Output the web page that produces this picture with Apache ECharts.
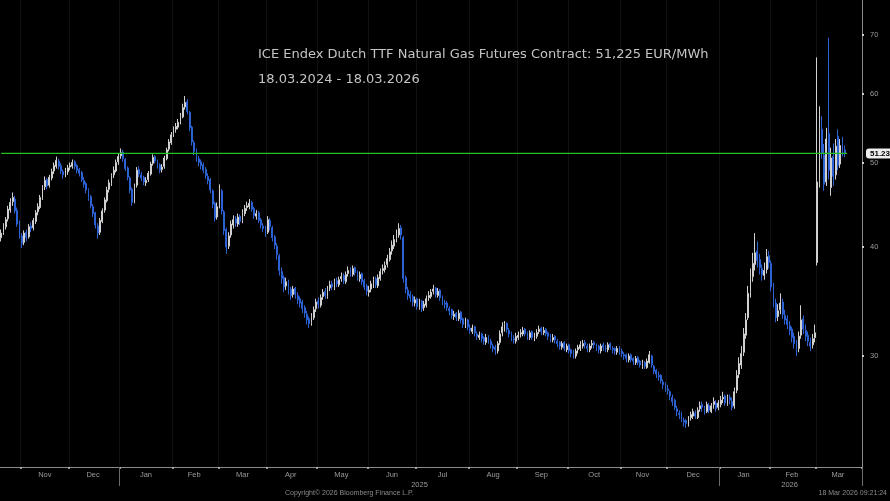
<!DOCTYPE html>
<html><head><meta charset="utf-8">
<script src="https://cdn.jsdelivr.net/npm/echarts@6/dist/echarts.min.js"></script>
<style>html,body{margin:0;padding:0;background:#000;}#c{width:890px;height:501px;}</style>
</head><body><div id="c"></div>
<script>
// Trading-day categories (weekdays) shown on the axis
const startDate = '2024-10-21';
const endDate = '2026-03-27';
// Daily candles per month: [open, close, low, high] (EUR/MWh)
const oct24 = [[41.0,41.5,40.6,41.9],[41.6,42.3,41.3,42.6],[42.2,43.0,41.9,43.3],[43.1,44.2,42.8,44.6],[44.1,45.0,43.8,45.5],[45.1,45.6,44.6,46.2],[45.4,44.0,43.7,45.8],[44.1,42.5,42.2,44.4],[42.6,41.3,40.9,42.9]];
const nov24 = [[41.2,40.4,39.9,41.5],[40.5,41.5,40.2,41.8],[41.6,41.0,40.6,41.9],[41.1,42.2,40.9,42.5],[42.3,42.0,41.6,42.7],[42.1,42.9,41.8,43.2],[42.8,43.8,42.5,44.1],[43.9,44.5,43.5,44.9],[44.4,45.6,44.2,45.9],[45.5,46.8,45.3,47.1],[46.9,47.7,46.5,48.2],[47.8,47.0,46.6,48.0],[47.1,48.1,46.8,48.4],[48.0,48.8,47.7,49.2],[48.9,49.6,48.5,50.0],[49.5,50.3,49.2,50.8],[50.2,49.5,49.1,50.5],[49.6,48.9,48.5,49.9],[48.8,48.4,47.9,49.1],[48.5,48.9,48.1,49.3],[48.8,49.3,48.4,49.7]];
const dec24 = [[49.4,49.6,49.0,50.0],[49.5,50.0,49.2,50.4],[50.1,49.5,49.1,50.3],[49.6,49.0,48.6,49.8],[49.1,48.6,48.2,49.3],[48.7,47.8,47.5,48.9],[47.7,47.2,46.8,48.1],[47.3,46.5,46.1,47.5],[46.4,45.6,45.2,46.7],[45.7,44.6,44.3,45.9],[44.5,43.7,43.3,44.8],[43.8,42.4,42.0,43.9],[42.3,41.5,40.9,42.6],[41.6,42.9,41.3,43.2],[42.8,44.0,42.6,44.3],[44.1,45.3,43.8,45.6],[45.2,46.5,45.0,46.9],[46.6,47.4,46.2,47.8],[47.3,48.3,47.0,48.6],[48.4,49.0,48.0,49.5],[48.9,50.0,48.7,50.4],[50.1,50.8,49.7,51.2]];
const jan25 = [[50.9,51.3,50.5,51.9],[51.4,50.5,50.1,51.7],[50.4,49.2,48.9,50.6],[49.3,48.1,47.7,49.5],[48.0,46.5,46.1,48.2],[46.6,45.0,44.6,46.8],[45.1,47.0,44.9,47.3],[47.1,49.0,46.8,49.4],[49.1,48.5,48.1,49.5],[48.4,48.0,47.6,48.8],[48.1,47.5,47.1,48.3],[47.4,47.7,47.0,48.1],[47.8,48.6,47.5,48.9],[48.5,49.8,48.3,50.1],[49.9,50.7,49.6,51.1],[50.8,50.2,49.9,51.0],[50.1,49.6,49.2,50.4],[49.7,49.0,48.6,49.9],[49.1,49.4,48.7,49.8],[49.5,50.6,49.2,50.9],[50.5,51.7,50.3,52.0],[51.8,52.8,51.5,53.2],[52.7,53.8,52.4,54.2]];
const feb25 = [[53.9,54.5,53.5,55.0],[54.6,55.0,54.1,55.5],[54.9,55.6,54.6,56.1],[55.7,56.5,55.3,57.0],[56.4,57.8,56.2,58.4],[57.9,58.6,57.5,59.6],[58.7,57.2,56.8,59.1],[57.1,54.8,54.3,57.3],[54.9,52.8,52.3,55.1],[52.7,51.5,51.0,53.0],[51.6,50.6,50.1,51.9],[50.5,50.0,49.5,50.9],[50.1,49.6,49.1,50.4],[49.7,49.0,48.6,50.0],[49.1,48.3,47.9,49.4],[48.2,47.7,47.2,48.6],[47.8,46.5,46.1,48.0],[46.4,44.8,44.3,46.6],[44.9,43.2,42.8,45.1],[43.3,44.5,43.0,45.0]];
const mar25 = [[44.6,46.5,44.3,47.2],[46.4,44.0,43.6,46.6],[43.9,41.8,41.3,44.1],[41.9,40.0,39.3,42.1],[40.1,41.2,39.8,41.6],[41.3,42.5,41.0,42.9],[42.4,43.0,42.0,43.5],[43.1,42.6,42.2,43.4],[42.5,43.3,42.2,43.7],[43.4,42.8,42.4,43.6],[42.9,43.8,42.6,44.2],[43.7,44.3,43.4,44.7],[44.4,44.6,44.0,45.1],[44.5,44.9,44.2,45.4],[45.0,44.2,43.9,45.2],[44.3,43.5,43.1,44.5],[43.4,43.7,43.0,44.1],[43.8,42.9,42.6,44.0],[43.0,42.4,42.0,43.2],[42.3,42.0,41.6,42.6],[42.1,41.5,41.1,42.3]];
const apr25 = [[41.6,43.0,41.4,43.4],[42.9,42.2,41.8,43.2],[42.1,41.0,40.6,42.3],[41.1,40.2,39.8,41.3],[40.1,39.2,38.7,40.4],[39.1,37.6,37.1,39.3],[37.5,36.8,36.3,37.9],[36.9,36.0,35.5,37.1],[36.1,36.5,35.7,36.9],[36.4,35.7,35.3,36.7],[35.8,35.2,34.8,36.0],[35.3,35.8,35.0,36.1],[35.9,35.3,34.9,36.0],[35.2,34.8,34.4,35.5],[34.9,34.5,34.1,35.1],[34.6,34.0,33.6,34.8],[34.1,33.6,33.2,34.3],[33.5,33.0,32.6,33.8],[33.1,32.7,32.3,33.3],[32.8,33.3,32.5,33.6],[33.2,33.9,33.0,34.2],[34.0,34.6,33.7,34.9]];
const may25 = [[34.7,34.4,34.0,35.0],[34.3,35.0,34.1,35.3],[35.1,35.5,34.8,35.8],[35.6,35.2,34.9,35.9],[35.1,35.8,34.9,36.1],[35.9,36.2,35.6,36.6],[36.3,36.0,35.7,36.6],[35.9,36.5,35.7,36.8],[36.6,36.3,36.0,36.9],[36.2,36.7,36.0,37.0],[36.8,37.0,36.5,37.4],[37.1,36.6,36.3,37.3],[36.5,37.2,36.3,37.5],[37.3,37.6,37.0,38.0],[37.7,37.3,37.0,37.9],[37.2,37.8,37.0,38.1],[37.9,37.4,37.1,38.0],[37.5,36.9,36.6,37.6],[36.8,37.2,36.5,37.5],[37.3,36.5,36.2,37.4],[36.6,36.0,35.7,36.8],[36.1,35.6,35.2,36.3]];
const jun25 = [[35.5,35.7,35.1,36.1],[35.8,36.3,35.5,36.6],[36.2,36.7,35.9,37.0],[36.8,36.2,35.9,37.0],[36.1,36.9,35.9,37.2],[36.8,37.5,36.6,37.8],[37.6,37.8,37.2,38.2],[37.7,38.1,37.4,38.5],[38.2,38.8,37.9,39.2],[38.7,39.5,38.5,39.9],[39.6,40.2,39.2,40.7],[40.1,40.8,39.8,41.3],[40.9,41.4,40.5,41.9],[41.3,42.0,41.0,42.6],[42.1,41.3,40.8,42.4],[41.0,36.8,36.4,41.2],[36.9,35.8,35.4,37.1],[35.7,35.2,34.8,36.0],[35.3,35.0,34.6,35.6],[35.1,34.6,34.2,35.3],[34.5,34.8,34.2,35.1]];
const jul25 = [[34.9,34.2,33.9,35.0],[34.1,34.6,33.9,34.9],[34.7,34.0,33.7,34.8],[34.1,34.4,33.8,34.7],[34.3,34.9,34.1,35.2],[35.0,35.2,34.7,35.6],[35.1,35.5,34.9,35.8],[35.6,35.8,35.3,36.2],[35.9,35.3,35.0,36.0],[35.2,35.6,35.0,35.9],[35.7,35.0,34.7,35.8],[35.1,34.6,34.3,35.2],[34.5,34.4,34.0,34.8],[34.5,34.1,33.8,34.7],[34.0,33.8,33.4,34.2],[33.9,33.4,33.1,34.0],[33.3,33.5,33.0,33.8],[33.6,33.2,32.9,33.7],[33.1,33.6,32.9,33.9],[33.7,33.0,32.7,33.8],[33.1,32.6,32.3,33.2],[32.5,32.9,32.3,33.2],[33.0,32.4,32.1,33.1]];
const aug25 = [[32.3,32.1,31.8,32.6],[32.0,32.3,31.8,32.6],[32.4,31.9,31.6,32.5],[31.8,31.6,31.3,32.0],[31.5,31.7,31.3,32.0],[31.8,31.4,31.1,31.9],[31.5,31.2,30.9,31.6],[31.1,31.5,30.9,31.8],[31.6,31.3,31.0,31.7],[31.2,30.9,30.6,31.4],[30.8,30.6,30.3,31.0],[30.7,30.5,30.1,30.9],[30.4,31.0,30.2,31.2],[31.1,31.8,30.9,32.1],[31.9,32.4,31.6,32.8],[32.3,32.6,32.0,32.9],[32.7,32.2,31.9,32.8],[32.1,31.8,31.5,32.3],[31.9,31.5,31.2,32.0],[31.4,31.3,31.0,31.7],[31.2,31.6,31.0,31.9]];
const sep25 = [[31.5,31.7,31.3,32.0],[31.8,31.9,31.5,32.2],[31.8,32.1,31.6,32.4],[32.2,31.8,31.6,32.3],[31.9,31.6,31.3,32.0],[31.5,31.9,31.3,32.1],[32.0,31.5,31.3,32.1],[31.4,31.7,31.2,31.9],[31.6,31.9,31.4,32.2],[32.0,32.2,31.8,32.5],[32.3,32.0,31.7,32.4],[31.9,32.1,31.7,32.4],[32.2,31.8,31.6,32.3],[31.9,31.6,31.3,32.0],[31.5,31.4,31.1,31.8],[31.3,31.5,31.1,31.8],[31.6,31.3,31.0,31.7],[31.2,31.0,30.7,31.4],[31.1,30.8,30.5,31.2],[30.7,31.0,30.5,31.2],[31.1,30.6,30.4,31.2],[30.5,30.8,30.3,31.0]];
const oct25 = [[30.9,30.4,30.2,31.0],[30.5,30.2,29.9,30.6],[30.3,30.1,29.8,30.5],[30.0,30.4,29.8,30.6],[30.5,30.7,30.2,30.9],[30.6,30.9,30.4,31.2],[30.8,31.0,30.6,31.3],[31.1,30.9,30.6,31.3],[30.8,30.6,30.3,31.0],[30.5,30.8,30.3,31.0],[30.9,31.0,30.6,31.3],[31.1,30.9,30.6,31.2],[30.8,30.7,30.4,31.0],[30.8,30.5,30.2,30.9],[30.4,30.8,30.2,31.0],[30.9,30.7,30.4,31.1],[30.6,30.6,30.3,30.9],[30.5,30.9,30.3,31.1],[31.0,30.7,30.5,31.1],[30.6,30.5,30.2,30.8],[30.6,30.4,30.1,30.7],[30.3,30.6,30.1,30.8],[30.7,30.3,30.1,30.8]];
const nov25 = [[30.4,30.2,29.9,30.6],[30.1,30.0,29.7,30.3],[30.1,29.8,29.5,30.2],[29.7,30.0,29.5,30.2],[30.1,29.7,29.5,30.2],[29.8,29.6,29.3,29.9],[29.5,29.8,29.3,30.0],[29.9,29.5,29.3,30.0],[29.6,29.3,29.1,29.7],[29.2,29.4,29.0,29.7],[29.5,29.2,29.0,29.6],[29.1,29.6,29.0,29.8],[29.5,30.1,29.4,30.4],[30.0,29.3,29.1,30.1],[29.2,28.8,28.6,29.3],[28.9,28.6,28.3,29.0],[28.5,28.4,28.1,28.8],[28.5,28.1,27.9,28.6],[28.0,27.8,27.5,28.2],[27.9,27.6,27.3,28.0]];
const dec25 = [[27.5,27.4,27.1,27.8],[27.3,27.0,26.7,27.4],[26.9,26.6,26.3,27.1],[26.7,26.2,26.0,26.8],[26.1,25.9,25.6,26.3],[25.8,25.7,25.4,26.0],[25.8,25.4,25.2,25.9],[25.3,25.2,24.9,25.5],[25.3,25.1,24.8,25.4],[25.0,25.4,24.9,25.6],[25.5,25.7,25.3,25.9],[25.6,25.9,25.4,26.1],[25.8,25.6,25.4,26.0],[25.5,26.0,25.4,26.2],[26.1,26.3,25.9,26.6],[26.4,26.2,25.9,26.6],[26.1,25.9,25.7,26.3],[25.9,26.4,25.8,26.6],[26.3,26.0,25.8,26.5],[25.9,26.3,25.8,26.5],[26.4,26.6,26.1,26.9],[26.5,26.1,25.9,26.7],[26.2,26.5,26.0,26.7]];
const jan26 = [[26.4,26.7,26.2,27.0],[26.8,26.9,26.5,27.3],[27.0,26.5,26.3,27.1],[26.4,26.8,26.3,27.1],[26.9,26.7,26.4,27.1],[26.6,26.2,26.0,26.9],[26.3,27.3,26.1,27.6],[27.4,28.5,27.2,28.9],[28.6,29.4,28.3,29.9],[29.3,30.2,29.0,30.8],[30.3,31.8,30.0,32.3],[31.7,33.0,31.4,33.6],[33.2,35.4,33.0,36.1],[35.5,36.9,35.0,37.8],[37.0,38.3,36.5,39.4],[38.2,39.4,37.6,41.5],[39.6,38.6,37.9,40.6],[38.7,37.9,37.2,39.3],[37.8,37.2,36.6,38.2],[37.1,37.6,36.7,38.4],[37.7,39.0,37.3,39.8],[39.1,38.4,37.8,39.6]];
const feb26 = [[38.3,36.0,35.6,38.6],[36.1,34.6,34.1,36.4],[34.5,33.2,32.8,34.9],[33.3,33.8,32.9,34.4],[33.9,34.5,33.5,35.4],[34.6,33.5,33.1,34.9],[33.4,33.0,32.6,33.9],[33.1,32.6,32.2,33.4],[32.5,32.1,31.7,32.9],[32.2,31.5,31.1,32.4],[31.6,31.0,30.6,31.9],[31.1,30.5,30.0,31.3],[30.6,31.6,30.3,32.0],[31.7,33.0,31.4,34.3],[33.1,32.2,31.8,33.4],[32.1,31.6,31.2,32.6],[31.7,31.2,30.8,32.0],[31.1,30.8,30.4,31.5],[30.9,31.4,30.6,31.8],[31.5,31.9,31.1,32.6]];
const mar26 = [[38.4,47.5,38.1,66.0],[47.8,54.2,46.8,58.0],[54.6,51.2,50.5,56.5],[51.0,47.2,46.4,52.5],[47.5,53.2,47.0,54.8],[54.0,49.0,47.8,69.5],[46.8,50.6,45.8,52.0],[50.8,48.2,47.0,52.6],[48.4,52.2,47.8,53.2],[53.6,49.6,49.0,54.6],[49.8,52.3,49.3,53.2],[52.6,51.5,50.8,53.5],[51.7,51.225,50.7,52.3]];
const yTicks = [30, 40, 50, 60, 70];
const monthNames = ['Jan','Feb','Mar','Apr','May','Jun','Jul','Aug','Sep','Oct','Nov','Dec'];
const titleText = 'ICE Endex Dutch TTF Natural Gas Futures Contract: 51,225 EUR/MWh';
const subtitleText = '18.03.2024 - 18.03.2026';
const copyrightText = 'Copyright\u00a9 2026 Bloomberg Finance L.P.';
const stampText = '18 Mar 2026 09:21:24';

const dates = [];
for (let t = Date.parse(startDate + 'T00:00:00Z'); t <= Date.parse(endDate + 'T00:00:00Z'); t += 86400000) {
  const d = new Date(t); const w = d.getUTCDay();
  if (w > 0 && w < 6) dates.push(d.toISOString().slice(0, 10));
}
const rows = [].concat(oct24, nov24, dec24, jan25, feb25, mar25, apr25, may25, jun25, jul25, aug25, sep25, oct25, nov25, dec25, jan26, feb26, mar26);
const candleData = dates.map((d, i) => i < rows.length ? rows[i] : '-');
const lastPrice = rows[rows.length - 1][1];

function groupsBy(len) {
  const g = []; dates.forEach((d, i) => {
    const k = d.slice(0, len);
    if (!g.length || g[g.length - 1].k !== k) g.push({k, s: i, e: i}); else g[g.length - 1].e = i;
  }); return g;
}
const mg = groupsBy(7), yg = groupsBy(4);
const monthStart = new Set(mg.slice(1).map(g => g.s));
const monthMid = new Set(mg.slice(1).map(g => Math.floor((g.s + g.e) / 2)));
const yearStart = new Set(yg.slice(1).map(g => g.s));
const yearMid = new Set(yg.slice(1).map(g => Math.floor((g.s + g.e) / 2)));

const yMin = 22.38, yMax = 76.8;
const labelFont = 'Liberation Sans';
const chart = echarts.init(document.getElementById('c'));
chart.setOption({
  backgroundColor: '#000',
  animation: false,
  title: [
    {text: titleText, left: 258, top: 48, padding: 0, textStyle: {color: '#c4c4c4', fontSize: 13, fontWeight: 'normal', fontFamily: 'DejaVu Sans'}},
    {text: subtitleText, left: 258, top: 73, padding: 0, textStyle: {color: '#c4c4c4', fontSize: 13, fontWeight: 'normal', fontFamily: 'DejaVu Sans'}},
    {text: copyrightText, left: 285, top: 490, padding: 0, textStyle: {color: '#8a8a8a', fontSize: 7, fontWeight: 'normal', fontFamily: labelFont}},
    {text: stampText, right: 3, top: 490, padding: 0, textStyle: {color: '#8a8a8a', fontSize: 7, fontWeight: 'normal', fontFamily: labelFont}}
  ],
  grid: {left: 0, right: 28, top: 0, bottom: 34, containLabel: false, outerBoundsMode: 'none'},
  xAxis: [
    {
      type: 'category', data: dates, boundaryGap: true,
      axisLine: {lineStyle: {color: '#8a8a8a', width: 1}},
      axisTick: {show: true, interval: (i) => monthStart.has(i), length: 2, lineStyle: {color: '#c0c0c0', width: 1.5}},
      axisLabel: {interval: (i) => monthMid.has(i), formatter: (v) => monthNames[+v.slice(5, 7) - 1], color: '#9a9a9a', fontSize: 7.5, margin: 4, fontFamily: labelFont},
      splitLine: {show: true, interval: (i) => monthStart.has(i), lineStyle: {color: '#111111', width: 1}}
    },
    {
      type: 'category', data: dates, boundaryGap: true, position: 'bottom',
      axisLine: {show: false},
      axisTick: {show: true, interval: (i) => yearStart.has(i), length: 19, lineStyle: {color: '#6a6a6a', width: 1}},
      axisLabel: {interval: (i) => yearMid.has(i), formatter: (v) => v.slice(0, 4), color: '#9a9a9a', fontSize: 7.5, margin: 14, fontFamily: labelFont},
      splitLine: {show: false}
    }
  ],
  yAxis: [
    {
      type: 'log', logBase: 10, min: yMin, max: yMax, position: 'right',
      axisLine: {show: true, lineStyle: {color: '#8a8a8a', width: 1}},
      axisTick: {show: true, customValues: yTicks, length: 2, lineStyle: {color: '#d0d0d0', width: 2}},
      axisLabel: {customValues: yTicks, color: '#9a9a9a', fontSize: 7.5, margin: 8, fontFamily: labelFont},
      splitLine: {show: false}
    },
    {
      type: 'log', logBase: 10, min: yMin, max: yMax, position: 'right',
      axisLine: {show: false}, axisTick: {show: false}, splitLine: {show: false},
      axisLabel: {customValues: [lastPrice], formatter: (v) => (+v).toFixed(2), color: '#000', backgroundColor: '#eeeeee', borderRadius: 3, padding: [1, 4, 1, 4], fontSize: 8, fontWeight: 'bold', margin: 4, fontFamily: labelFont}
    }
  ],
  series: [
    {
      type: 'line', xAxisIndex: 0, yAxisIndex: 0, silent: true, showSymbol: false, symbol: 'none', z: 3,
      data: [[dates[0], lastPrice], [dates[rows.length], lastPrice]],
      lineStyle: {color: '#22c022', width: 1.3, type: 'solid'}
    },
    {
      type: 'candlestick', xAxisIndex: 0, yAxisIndex: 0, data: candleData, barWidth: '60%', z: 2,
      itemStyle: {color: '#d0d0d0', color0: '#2c62d4', borderColor: '#d0d0d0', borderColor0: '#2c62d4', borderWidth: 1}
    }
  ]
});
</script></body></html>
